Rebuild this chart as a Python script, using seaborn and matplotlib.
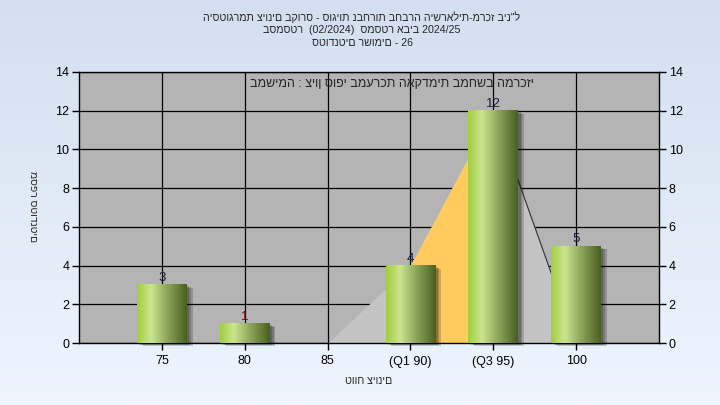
import numpy as np
import pandas as pd
import matplotlib
matplotlib.use("Agg")
import matplotlib.pyplot as plt
import seaborn as sns
from matplotlib.colors import LinearSegmentedColormap
from matplotlib.patches import Rectangle

# data
grades = ["75", "80", "85", "(Q1 90)", "(Q3 95)", "100"]
students = [3, 1, 0, 4, 12, 5]
curve_x = [2, 3, 4, 5]          # category positions of the area outline (85..100)
curve_y = [0, 4, 12, 0]

title_lines = [
    'היסטוגרמת ציונים בקורס - סוגיות נבחרות בחברה הישראלית-מרכז בינ"ל',
    "בסמסטר  (02/2024)  סמסטר אביב 2024/25",
    "סטודנטים רשומים - 26",
]
subtitle = "במשימה : ציון סופי במערכת האקדמית במחשב המרכזי"
x_title = "טווח ציונים"
y_title = "מספר סטודנטים"

sns.set_style("white")
plt.rcParams["font.family"] = ["Liberation Sans", "DejaVu Sans"]

df = pd.DataFrame({"grade": grades, "count": students})

fig = plt.figure(figsize=(7.2, 4.05), dpi=100)

# background gradient of the whole figure
bg = fig.add_axes([0, 0, 1, 1], zorder=-10)
bg_cmap = LinearSegmentedColormap.from_list("bg", ["#d3dff0", "#eef5fd"])
bg.imshow(np.linspace(0, 1, 256).reshape(-1, 1), aspect="auto", cmap=bg_cmap,
          extent=[0, 1, 0, 1])
bg.axis("off")

ax = fig.add_axes([79 / 720, 1 - 343 / 405, 580 / 720, 271 / 405])
ax.set_facecolor("#b4b4b4")

sns.barplot(data=df, x="grade", y="count", order=grades, width=0.6,
            color="#a4cf44", ax=ax, zorder=3)

ax.set_xlim(-1, 6)
ax.set_ylim(0, 14)
ax.set_yticks(range(0, 15, 2))

# grid behind everything
ax.grid(True, color="black", linewidth=0.9, zorder=0)
ax.set_axisbelow(True)

# area behind the bars
ax.fill_between(curve_x, curve_y, color="#c4c4c4", zorder=1, linewidth=0)
ax.fill_between(curve_x[1:3], curve_y[1:3], color="#ffcb5c", zorder=1.5, linewidth=0)
ax.plot(curve_x[2:], curve_y[2:], color="#303030", linewidth=0.8, zorder=1.6)

# cylinder-like gradient on the bars plus a soft shadow
bar_cmap = LinearSegmentedColormap.from_list(
    "bar", [(0, "#a2cd40"), (0.28, "#cbe58e"), (0.6, "#8ea65c"), (1, "#48601e")])
grad = np.linspace(0, 1, 200).reshape(1, -1)
for patch, val in zip(ax.patches, students):
    x0, w, h = patch.get_x(), patch.get_width(), patch.get_height()
    patch.set_visible(False)
    if h <= 0:
        continue
    for k, a in enumerate([0.18, 0.18, 0.18]):
        dx = 0.03 + 0.02 * k
        ax.add_patch(Rectangle((x0 + dx, -0.08 - 0.04 * k), w, h, color="black",
                               alpha=a, zorder=2, linewidth=0, clip_on=False))
    ax.imshow(grad, extent=[x0, x0 + w, 0, h], aspect="auto", cmap=bar_cmap,
              zorder=3, interpolation="bilinear")
    ax.text(x0 + w / 2, h + 0.05, str(val), ha="center", va="bottom", fontsize=9.5,
            color="#800000" if val == 1 else "#1c1c3a", zorder=5)

ax.set_xlim(-1, 6)
ax.set_ylim(0, 14)

for s in ax.spines.values():
    s.set_visible(True)
    s.set_color("black")
    s.set_linewidth(1.0)

ax.tick_params(axis="both", direction="out", length=5, width=1, color="black",
               labelsize=9, labelcolor="black")
ax.tick_params(axis="y", left=True, right=True, labelleft=True, labelright=True, pad=2)
ax.tick_params(axis="x", bottom=True, pad=4)

ax.set_xlabel(x_title, fontsize=7.6, labelpad=6)
ax.set_ylabel("")
fig.text(33 / 720, 1 - 207 / 405, y_title, rotation=270, ha="center", va="center",
         fontsize=7.5)

ax.text(0.54, 0.955, subtitle, transform=ax.transAxes, ha="center", va="center",
        fontsize=9, zorder=6)

for i, line in enumerate(title_lines):
    fig.text(362 / 720, 1 - (17 + 13 * i) / 405, line, ha="center", va="center",
             fontsize=7.7)

fig.savefig("out.png", dpi=100)
